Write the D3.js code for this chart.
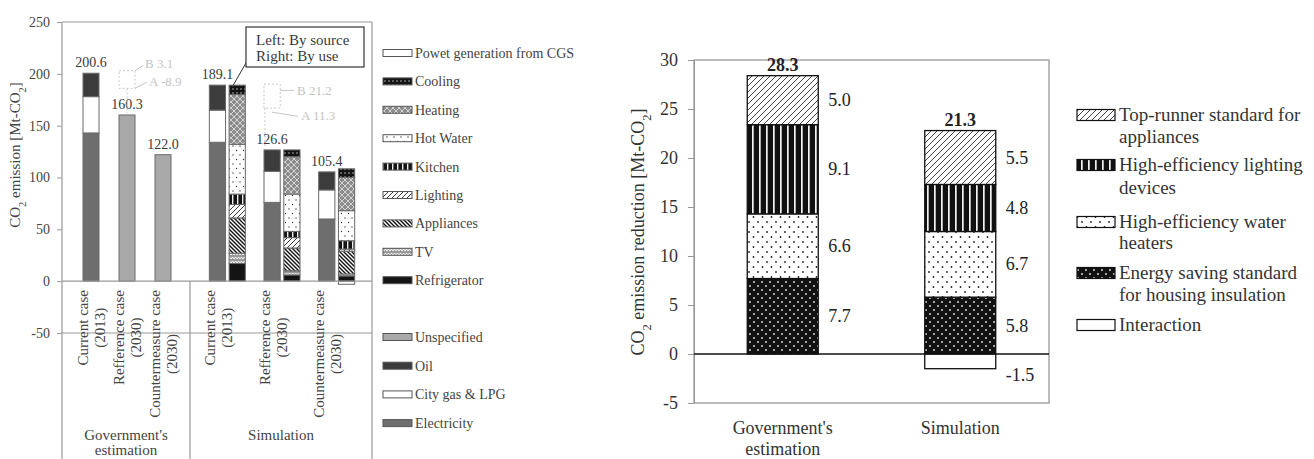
<!DOCTYPE html>
<html><head><meta charset="utf-8">
<script src="https://cdn.jsdelivr.net/npm/d3@7"></script>
<style>
body{margin:0;background:#fff;}
svg, svg text{font-family:"Liberation Serif","DejaVu Serif","Times New Roman",serif;}
</style></head><body>
<svg id="chart" width="1314" height="459" font-family="Liberation Serif, DejaVu Serif, serif"></svg>
<script>
// ---------- Emissions by case [Mt-CO2] ----------
const caseKeys = ["current", "reference", "countermeasure"];
const caseLabels = [["Current case", "(2013)"], ["Refference case", "(2030)"], ["Countermeasure case", "(2030)"]];
const groupLabels = [["Government's", "estimation"], ["Simulation"]];

const govElectricity = [143, 0, 0];
const govCityGas = [35, 0, 0];
const govOil = [22.6, 0, 0];
const govUnspecified = [0, 160.3, 122.0];
const govTotals = [200.6, 160.3, 122.0];

const simElectricity = [134, 76, 60];
const simCityGas = [31, 30, 28];
const simOil = [24.1, 20.6, 17.4];
const simUnspecified = [0, 0, 0];
const simTotals = [189.1, 126.6, 105.4];

const simCGS = [0, 0, -3.0];
const simRefrigerator = [17, 6, 5];
const simTV = [10, 4, 2];
const simAppliances = [34, 22, 22];
const simLighting = [13, 10, 2];
const simKitchen = [10, 6, 8];
const simHotWater = [48, 36, 29];
const simHeating = [48, 36, 32];
const simCooling = [9.1, 6.6, 8.4];

const leftTicks = [-50, 0, 50, 100, 150, 200, 250];

// ---------- Reduction by measure [Mt-CO2] ----------
const reductionGroups = ["Government's estimation", "Simulation"];
const reductionGroupLabels = [["Government's", "estimation"], ["Simulation"]];
const redInsulation = [7.7, 5.8];
const redWaterHeaters = [6.6, 6.7];
const redLighting = [9.1, 4.8];
const redTopRunner = [5.0, 5.5];
const redInteraction = [0, -1.5];
const reductionTotals = [28.3, 21.3];
const rightTicks = [-5, 0, 5, 10, 15, 20, 25, 30];

const SERIF = "Liberation Serif, DejaVu Serif, serif";
const svg = d3.select("#chart");
const defs = svg.append("defs");
const num = v => String(v);            // plain hyphen-minus for negatives
const fix1 = v => v.toFixed(1);

function pat(id, w, h, bg, draw) {
  const p = defs.append("pattern").attr("id", id)
    .attr("patternUnits", "userSpaceOnUse").attr("width", w).attr("height", h);
  p.append("rect").attr("width", w).attr("height", h).attr("fill", bg);
  if (draw) draw(p);
  return `url(#${id})`;
}
function dots(p, pts, r, color) {
  pts.forEach(([x, y]) => p.append("circle").attr("cx", x).attr("cy", y).attr("r", r).attr("fill", color));
}

// fills for the left panel
const sourceKeys = ["Electricity", "City gas & LPG", "Oil", "Unspecified"];
const useKeys = ["Power generation from CGS", "Refrigerator", "TV", "Appliances", "Lighting", "Kitchen", "Hot Water", "Heating", "Cooling"];
const fills = {
  "Electricity": "#6e6e6e",
  "City gas & LPG": "#ffffff",
  "Oil": "#3c3c3c",
  "Unspecified": "#a9a9a9",
  "Power generation from CGS": "#ffffff",
  "Refrigerator": "#141414",
  "TV": pat("p-tv", 6, 4, "#9a9a9a", p => p.append("path").attr("d", "M0,3 L1.5,1 L3,3 L4.5,1 L6,3").attr("fill", "none").attr("stroke", "#fff").attr("stroke-width", 0.9)),
  "Appliances": pat("p-app", 4, 4, "#fff", p => p.append("path").attr("d", "M0,0 L4,4 M-1,3 L1,5 M3,-1 L5,1").attr("stroke", "#111").attr("stroke-width", 1.4)),
  "Lighting": pat("p-lig", 5, 5, "#fff", p => p.append("path").attr("d", "M0,5 L5,0 M-1,1 L1,-1 M4,6 L6,4").attr("stroke", "#222").attr("stroke-width", 0.9)),
  "Kitchen": pat("p-kit", 5, 5, "#141414", p => p.append("rect").attr("x", 2).attr("width", 1.4).attr("height", 5).attr("fill", "#eee")),
  "Hot Water": pat("p-hot", 7, 9, "#fff", p => dots(p, [[2, 2], [5.5, 6.5]], 0.7, "#333")),
  "Heating": pat("p-heat", 6, 6, "#8c8c8c", p => p.append("path").attr("d", "M3,0 L6,3 L3,6 L0,3Z").attr("fill", "none").attr("stroke", "#d4d4d4").attr("stroke-width", 1)),
  "Cooling": pat("p-cool", 4, 4, "#141414", p => dots(p, [[1, 1]], 0.7, "#ddd"))
};

// fills for the right panel
const redKeys = ["Energy saving standard for housing insulation", "High-efficiency water heaters", "High-efficiency lighting devices", "Top-runner standard for appliances", "Interaction"];
const redLegend = [
  ["Top-runner standard for appliances", ["Top-runner standard for", "appliances"]],
  ["High-efficiency lighting devices", ["High-efficiency lighting", "devices"]],
  ["High-efficiency water heaters", ["High-efficiency water", "heaters"]],
  ["Energy saving standard for housing insulation", ["Energy saving standard", "for housing insulation"]],
  ["Interaction", ["Interaction"]]
];
const redFills = {
  "Top-runner standard for appliances": pat("r-top", 6, 6, "#fff", p => p.append("path").attr("d", "M0,6 L6,0 M-1.5,1.5 L1.5,-1.5 M4.5,7.5 L7.5,4.5").attr("stroke", "#444").attr("stroke-width", 1)),
  "High-efficiency lighting devices": pat("r-lig", 7, 7, "#111", p => p.append("rect").attr("x", 3).attr("width", 1.7).attr("height", 7).attr("fill", "#f2f2f2")),
  "High-efficiency water heaters": pat("r-wat", 9, 10, "#fff", p => dots(p, [[2, 2], [6.5, 7]], 0.9, "#222")),
  "Energy saving standard for housing insulation": pat("r-ins", 8, 8, "#111", p => dots(p, [[2, 2], [6, 6]], 0.9, "#e8e8e8")),
  "Interaction": "#ffffff"
};

function coText(sel, post) {
  sel.append("tspan").text("CO");
  sel.append("tspan").attr("baseline-shift", "sub").attr("font-size", "70%").text("2");
  sel.append("tspan").text(" " + post + " [Mt-CO");
  sel.append("tspan").attr("baseline-shift", "sub").attr("font-size", "70%").text("2");
  sel.append("tspan").text("]");
}

// =============== LEFT PANEL ===============
const L = svg.append("g").attr("fill", "#3a3a3a").attr("font-family", SERIF);
const yL = d3.scaleLinear().domain([-50, 250]).range([333, 22]);
const xGov = d3.scaleBand().domain(caseKeys).range([73, 181]);
const xSim = d3.scaleBand().domain(caseKeys).range([200, 364]);
const xSub = d3.scaleBand().domain(["source", "use"]).range([-18, 18]).paddingInner(0.18);
const govBarW = 16;
const frameC = "#999";

// frame and separators
const frame = L.append("g").attr("stroke", frameC).attr("stroke-width", 1.2).attr("fill", "none");
frame.append("line").attr("x1", 62).attr("x2", 62).attr("y1", yL(250)).attr("y2", 459);
frame.append("line").attr("x1", 372).attr("x2", 372).attr("y1", yL(250)).attr("y2", 459);
frame.append("line").attr("x1", 62).attr("x2", 372).attr("y1", yL(250)).attr("y2", yL(250));
frame.append("line").attr("x1", 62).attr("x2", 372).attr("y1", yL(-50)).attr("y2", yL(-50));
frame.append("line").attr("x1", 190).attr("x2", 190).attr("y1", yL(0)).attr("y2", 459);

// axis
const axL = L.append("g").attr("transform", "translate(62,0)")
  .call(d3.axisLeft(yL).tickValues(leftTicks).tickFormat(num).tickSize(5).tickPadding(7))
  .attr("font-family", SERIF);
axL.select(".domain").remove();
axL.selectAll("line").attr("stroke", frameC);
axL.selectAll("text").attr("font-size", 14).attr("fill", "#444");

// axis title
coText(L.append("text").attr("transform", "translate(20,155) rotate(-90)")
  .attr("text-anchor", "middle").attr("font-size", 15).attr("fill", "#444"), "emission");

function drawStack(keys, rows, xOf, w) {
  const series = d3.stack().keys(keys).offset(d3.stackOffsetDiverging)(rows);
  series.forEach(s => {
    L.append("g").selectAll("rect").data(s.filter(d => d[1] - d[0] !== 0)).join("rect")
      .attr("x", d => xOf(d.data.case))
      .attr("width", w)
      .attr("y", d => yL(Math.max(d[0], d[1])))
      .attr("height", d => Math.abs(yL(d[0]) - yL(d[1])))
      .attr("fill", fills[s.key])
      .attr("stroke", "#6a6a6a").attr("stroke-width", 1);
  });
}

const govRows = caseKeys.map((k, i) => ({ case: k, "Electricity": govElectricity[i], "City gas & LPG": govCityGas[i], "Oil": govOil[i], "Unspecified": govUnspecified[i] }));
const simSourceRows = caseKeys.map((k, i) => ({ case: k, "Electricity": simElectricity[i], "City gas & LPG": simCityGas[i], "Oil": simOil[i], "Unspecified": simUnspecified[i] }));
const simUseRows = caseKeys.map((k, i) => ({
  case: k, "Power generation from CGS": simCGS[i], "Refrigerator": simRefrigerator[i], "TV": simTV[i],
  "Appliances": simAppliances[i], "Lighting": simLighting[i], "Kitchen": simKitchen[i],
  "Hot Water": simHotWater[i], "Heating": simHeating[i], "Cooling": simCooling[i]
}));

const govX = k => xGov(k) + (xGov.bandwidth() - govBarW) / 2;
const simSrcX = k => xSim(k) + xSim.bandwidth() / 2 + xSub("source");
const simUseX = k => xSim(k) + xSim.bandwidth() / 2 + xSub("use");

drawStack(sourceKeys, govRows, govX, govBarW);
drawStack(sourceKeys, simSourceRows, simSrcX, xSub.bandwidth());
drawStack(useKeys, simUseRows, simUseX, xSub.bandwidth());

// zero line over the bars
L.append("line").attr("x1", 62).attr("x2", 372).attr("y1", yL(0)).attr("y2", yL(0))
  .attr("stroke", frameC).attr("stroke-width", 1.2);

// totals
L.append("g").selectAll("text").data(caseKeys).join("text")
  .attr("x", k => govX(k) + govBarW / 2).attr("y", (k, i) => yL(govTotals[i]) - 6)
  .attr("text-anchor", "middle").attr("font-size", 14).text((k, i) => fix1(govTotals[i]));
L.append("g").selectAll("text").data(caseKeys).join("text")
  .attr("x", k => simSrcX(k) + xSub.bandwidth() / 2).attr("y", (k, i) => yL(simTotals[i]) - 6)
  .attr("text-anchor", "middle").attr("font-size", 14).text((k, i) => fix1(simTotals[i]));

// faded change annotations
const faint = L.append("g").attr("stroke", "#c8c8c8").attr("fill", "none").attr("stroke-width", 1);
const gRefX = govX("reference");
faint.append("rect").attr("x", gRefX).attr("y", yL(203)).attr("width", govBarW).attr("height", yL(186) - yL(203)).attr("stroke-dasharray", "2,2");
faint.append("line").attr("x1", gRefX + 8).attr("x2", gRefX + 8).attr("y1", yL(186)).attr("y2", yL(162)).attr("stroke-dasharray", "2,2");
faint.append("path").attr("d", `M${gRefX + govBarW},${yL(203)} L${gRefX + 24},${yL(208)}`);
faint.append("path").attr("d", `M${gRefX + govBarW},${yL(186)} L${gRefX + 28},${yL(192)}`);
const sRefX = simSrcX("reference");
faint.append("rect").attr("x", sRefX).attr("y", yL(190)).attr("width", xSub.bandwidth()).attr("height", yL(167) - yL(190)).attr("stroke-dasharray", "2,2");
faint.append("line").attr("x1", sRefX + 1).attr("x2", sRefX + 1).attr("y1", yL(167)).attr("y2", yL(128)).attr("stroke-dasharray", "2,2");
faint.append("path").attr("d", `M${sRefX + xSub.bandwidth()},${yL(184)} L${sRefX + 30},${yL(184)}`);
faint.append("path").attr("d", `M${sRefX + 8},${yL(163)} L${sRefX + 34},${yL(159)}`);
const faintT = L.append("g").attr("fill", "#c4c4c4").attr("font-size", 13);
faintT.append("text").attr("x", gRefX + 26).attr("y", yL(206)).text("B 3.1");
faintT.append("text").attr("x", gRefX + 30).attr("y", yL(188)).text("A -8.9");
faintT.append("text").attr("x", sRefX + 33).attr("y", yL(180)).text("B 21.2");
faintT.append("text").attr("x", sRefX + 37).attr("y", yL(155)).text("A 11.3");

// note box
const nb = L.append("g");
nb.append("line").attr("x1", 246).attr("y1", 63)
  .attr("x2", simUseX("current") + 3).attr("y2", yL(189.1) + 2).attr("stroke", "#333").attr("stroke-width", 1);
nb.append("rect").attr("x", 246).attr("y", 27).attr("width", 118).attr("height", 40)
  .attr("fill", "#fff").attr("stroke", "#333").attr("stroke-width", 1.2);
nb.append("text").attr("x", 256).attr("y", 45).attr("font-size", 15).text("Left: By source");
nb.append("text").attr("x", 256).attr("y", 61).attr("font-size", 15).text("Right: By use");

// rotated case labels
function caseLabel(cx, lines) {
  const top = 290;
  const t1 = L.append("text").attr("transform", `translate(${cx - 4.5},${top}) rotate(-90)`)
    .attr("text-anchor", "end").attr("font-size", 15).attr("fill", "#444").text(lines[0]);
  const len = t1.node().getComputedTextLength();
  L.append("text").attr("transform", `translate(${cx + 12.5},${top + len / 2}) rotate(-90)`)
    .attr("text-anchor", "middle").attr("font-size", 15).attr("fill", "#444").text(lines[1]);
}
caseKeys.forEach((k, i) => caseLabel(govX(k) + govBarW / 2 + 1, caseLabels[i]));
caseKeys.forEach((k, i) => caseLabel(simSrcX(k) + xSub.bandwidth() / 2 + 2, caseLabels[i]));

// group labels
[[126, groupLabels[0]], [281, groupLabels[1]]].forEach(([cx, lines]) => {
  lines.forEach((t, j) => L.append("text").attr("x", cx).attr("y", 440 + j * 15)
    .attr("text-anchor", "middle").attr("font-size", 15).attr("fill", "#444").text(t));
});

// legend
const legUse = ["Power generation from CGS", "Cooling", "Heating", "Hot Water", "Kitchen", "Lighting", "Appliances", "TV", "Refrigerator"];
const legSrc = ["Unspecified", "Oil", "City gas & LPG", "Electricity"];
const legRows = legUse.map((k, i) => [k, 53 + i * 28.4]).concat(legSrc.map((k, i) => [k, 337 + i * 28.7]));
const legL = L.append("g");
legRows.forEach(([k, y]) => {
  legL.append("rect").attr("x", 383).attr("y", y - 3.5).attr("width", 29).attr("height", 7)
    .attr("fill", fills[k]).attr("stroke", "#555").attr("stroke-width", 1);
  legL.append("text").attr("x", 415).attr("y", y + 5).attr("font-size", 14).attr("fill", "#444")
    .text(k === "Power generation from CGS" ? "Powet generation from CGS" : k);
});

// =============== RIGHT PANEL ===============
const R = svg.append("g").attr("fill", "#222").attr("font-family", SERIF);
const yR = d3.scaleLinear().domain([-5, 30]).range([403, 60]);
const xR = d3.scalePoint().domain(reductionGroups).range([694, 1049]).padding(0.5);
const barW = 71;

R.append("rect").attr("x", 694).attr("y", yR(30)).attr("width", 1049 - 694).attr("height", yR(-5) - yR(30))
  .attr("fill", "none").attr("stroke", "#999").attr("stroke-width", 1.3);

const axR = R.append("g").attr("transform", "translate(694,0)")
  .call(d3.axisLeft(yR).tickValues(rightTicks).tickFormat(num).tickSize(6).tickPadding(10))
  .attr("font-family", SERIF);
axR.select(".domain").attr("stroke", "#999");
axR.selectAll("line").attr("stroke", "#999");
axR.selectAll("text").attr("font-size", 18).attr("fill", "#333");

coText(R.append("text").attr("transform", "translate(644,232) rotate(-90)")
  .attr("text-anchor", "middle").attr("font-size", 18).attr("fill", "#333"), "emission reduction");

const redRows = reductionGroups.map((g, i) => ({
  group: g,
  "Energy saving standard for housing insulation": redInsulation[i],
  "High-efficiency water heaters": redWaterHeaters[i],
  "High-efficiency lighting devices": redLighting[i],
  "Top-runner standard for appliances": redTopRunner[i],
  "Interaction": redInteraction[i]
}));
const redSeries = d3.stack().keys(redKeys).offset(d3.stackOffsetDiverging)(redRows);
redSeries.forEach(s => {
  const segs = s.filter(d => d[1] - d[0] !== 0);
  R.append("g").selectAll("rect").data(segs).join("rect")
    .attr("x", d => xR(d.data.group) - barW / 2).attr("width", barW)
    .attr("y", d => yR(Math.max(d[0], d[1])))
    .attr("height", d => Math.abs(yR(d[0]) - yR(d[1])))
    .attr("fill", redFills[s.key]).attr("stroke", "#111").attr("stroke-width", 1.3);
  R.append("g").selectAll("text").data(segs).join("text")
    .attr("x", d => xR(d.data.group) + barW / 2 + 10)
    .attr("y", d => d.data[s.key] > 0 ? (yR(d[0]) + yR(d[1])) / 2 + 6 : yR(Math.min(d[0], d[1])) + 12)
    .attr("font-size", 18).text(d => fix1(d.data[s.key]));
});

// zero line
R.append("line").attr("x1", 694).attr("x2", 1049).attr("y1", yR(0)).attr("y2", yR(0))
  .attr("stroke", "#111").attr("stroke-width", 1.5);

// bold totals above each bar
const tops = redRows.map(r => d3.sum(redKeys, k => Math.max(0, r[k])));
R.append("g").selectAll("text").data(reductionGroups).join("text")
  .attr("x", g => xR(g)).attr("y", (g, i) => yR(tops[i]) - 5)
  .attr("text-anchor", "middle").attr("font-size", 18).attr("font-weight", "bold")
  .text((g, i) => fix1(reductionTotals[i]));

// category labels
reductionGroups.forEach((g, i) => {
  reductionGroupLabels[i].forEach((t, j) => R.append("text").attr("x", xR(g)).attr("y", 434 + j * 21)
    .attr("text-anchor", "middle").attr("font-size", 18).attr("fill", "#333").text(t));
});

// legend
const legYs = [[115, 137], [165, 188], [222, 243], [273, 295], [325]];
redLegend.forEach(([k, lines], i) => {
  const ys = legYs[i];
  R.append("rect").attr("x", 1077).attr("y", ys[0] - 5.5).attr("width", 38).attr("height", 11)
    .attr("fill", redFills[k]).attr("stroke", "#111").attr("stroke-width", 1.2);
  lines.forEach((t, j) => R.append("text").attr("x", 1119).attr("y", ys[j] + 6)
    .attr("font-size", 19).attr("fill", "#333").text(t));
});
</script>
</body></html>
